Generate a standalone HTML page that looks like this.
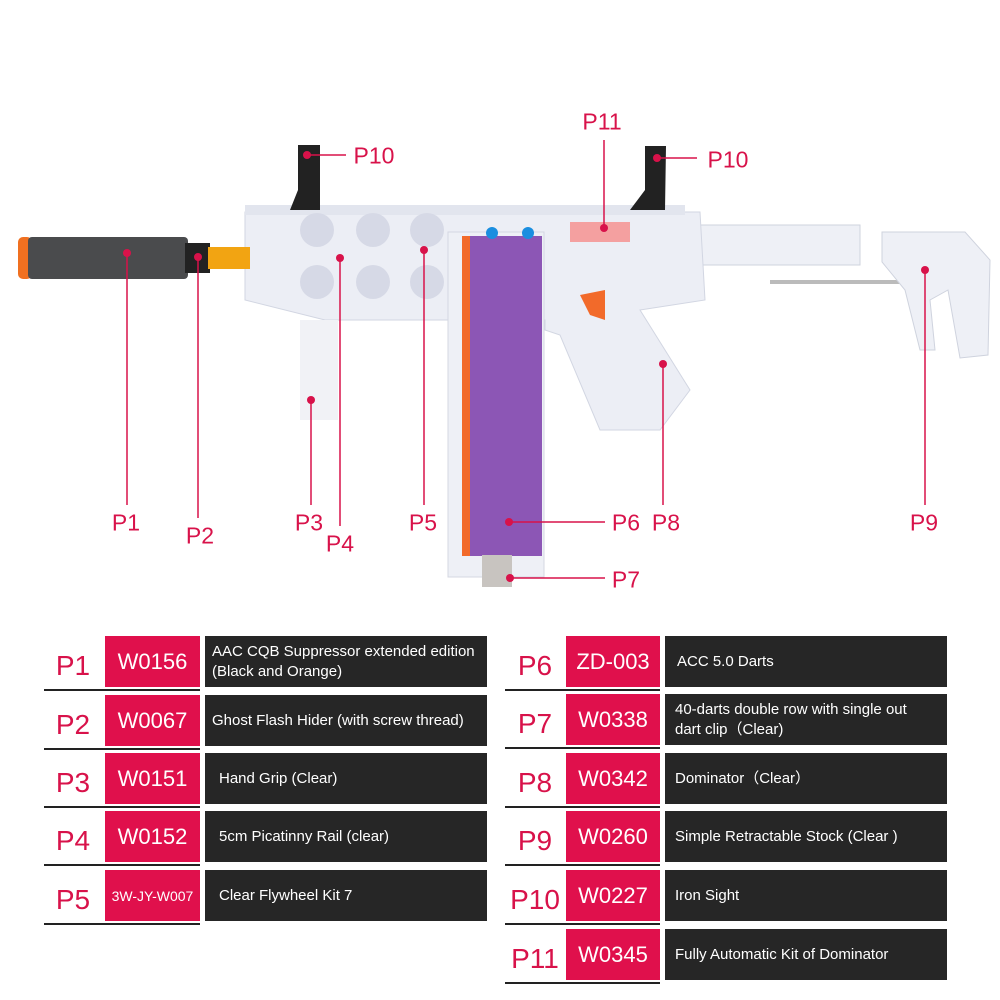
<!DOCTYPE html>
<html><head><style>
body{margin:0;width:1000px;height:1000px;background:#fff;position:relative;overflow:hidden;font-family:"Liberation Sans",sans-serif}
.lbl{position:absolute;color:#d8124a;font-size:23px;transform:translate(-50%,-50%);white-space:nowrap}
.pl{position:absolute;color:#d8124a;font-size:28px;transform:translate(-50%,-50%)}
.rb{position:absolute;background:#e0104c;color:#fff;font-size:22px;display:flex;align-items:center;justify-content:center;height:51px}
.db{position:absolute;background:#262626;color:#fff;font-size:15px;display:flex;align-items:center;height:51px;padding-left:7px;box-sizing:border-box;line-height:20px}
.ul{position:absolute;height:2px;background:#222}
</style></head><body>
<svg width="1000" height="620" style="position:absolute;left:0;top:0">
<!-- stock -->
<rect x="700" y="225" width="160" height="40" fill="#eef0f6" stroke="#cfd3de"/>
<rect x="770" y="280" width="150" height="4" fill="#bbb"/>
<path d="M882 232 L965 232 L990 260 L988 355 L960 358 L948 290 L930 300 L935 350 L920 350 L905 290 L882 262Z" fill="#eef0f6" stroke="#cfd3de"/>
<!-- receiver -->
<path d="M245 212 L700 212 L705 300 L640 310 L690 390 L660 430 L600 430 L560 335 L545 330 L545 320 L325 320 L245 300Z" fill="#eceef5" stroke="#d2d6e2"/>
<rect x="245" y="205" width="440" height="10" fill="#e2e5ee"/>
<g fill="#d6d9e6"><circle cx="317" cy="230" r="17"/><circle cx="373" cy="230" r="17"/><circle cx="427" cy="230" r="17"/><circle cx="317" cy="282" r="17"/><circle cx="373" cy="282" r="17"/><circle cx="427" cy="282" r="17"/></g>
<rect x="300" y="320" width="38" height="100" fill="#f1f2f6"/>
<!-- magazine -->
<rect x="448" y="232" width="96" height="345" fill="#eef0f6" stroke="#d4d7e2"/>
<rect x="462" y="236" width="80" height="320" fill="#8c56b5"/>
<rect x="462" y="236" width="8" height="320" fill="#f26a2a"/>
<rect x="482" y="555" width="30" height="32" fill="#c8c4c0"/>
<!-- trigger parts -->
<path d="M580 295 L605 290 L605 320 L590 315Z" fill="#f26a2a"/>
<rect x="570" y="222" width="60" height="20" fill="#f4a0a0"/>
<!-- sights -->
<path d="M290 210 L320 210 L320 145 L298 145 L298 190 Z" fill="#222"/>
<path d="M630 210 L665 210 L666 146 L645 146 L645 190Z" fill="#222"/>
<circle cx="492" cy="233" r="6" fill="#1a8ee0"/><circle cx="528" cy="233" r="6" fill="#1a8ee0"/>
<!-- suppressor -->
<rect x="18" y="237" width="14" height="42" rx="5" fill="#f07020"/>
<rect x="28" y="237" width="160" height="42" rx="4" fill="#4a4b4d"/>
<rect x="185" y="243" width="25" height="30" fill="#222"/>
<rect x="208" y="247" width="42" height="22" fill="#f2a412"/>
<!-- leader lines -->
<g stroke="#d8124a" stroke-width="1.5" fill="none">
<line x1="127" y1="254" x2="127" y2="505"/>
<line x1="198" y1="257" x2="198" y2="518"/>
<line x1="311" y1="400" x2="311" y2="505"/>
<line x1="340" y1="258" x2="340" y2="526"/>
<line x1="424" y1="250" x2="424" y2="505"/>
<line x1="509" y1="522" x2="605" y2="522"/>
<line x1="510" y1="578" x2="605" y2="578"/>
<line x1="663" y1="364" x2="663" y2="505"/>
<line x1="925" y1="270" x2="925" y2="505"/>
<line x1="307" y1="155" x2="346" y2="155"/>
<line x1="657" y1="158" x2="697" y2="158"/>
<line x1="604" y1="140" x2="604" y2="228"/>
</g>
<g fill="#d8124a">
<circle cx="127" cy="253" r="4"/><circle cx="198" cy="257" r="4"/><circle cx="311" cy="400" r="4"/><circle cx="340" cy="258" r="4"/><circle cx="424" cy="250" r="4"/><circle cx="509" cy="522" r="4"/><circle cx="510" cy="578" r="4"/><circle cx="663" cy="364" r="4"/><circle cx="925" cy="270" r="4"/><circle cx="307" cy="155" r="4"/><circle cx="657" cy="158" r="4"/><circle cx="604" cy="228" r="4"/>
</g>
</svg>
<div class="lbl" style="left:126px;top:523px">P1</div>
<div class="lbl" style="left:200px;top:536px">P2</div>
<div class="lbl" style="left:309px;top:523px">P3</div>
<div class="lbl" style="left:340px;top:544px">P4</div>
<div class="lbl" style="left:423px;top:523px">P5</div>
<div class="lbl" style="left:626px;top:523px">P6</div>
<div class="lbl" style="left:666px;top:523px">P8</div>
<div class="lbl" style="left:924px;top:523px">P9</div>
<div class="lbl" style="left:626px;top:580px">P7</div>
<div class="lbl" style="left:374px;top:156px">P10</div>
<div class="lbl" style="left:728px;top:160px">P10</div>
<div class="lbl" style="left:602px;top:122px">P11</div>

<!-- left table -->
<div class="pl" style="left:73px;top:666px">P1</div><div class="rb" style="left:105px;top:636px;width:95px">W0156</div><div class="db" style="left:205px;top:636px;width:282px">AAC CQB Suppressor extended edition<br>(Black and Orange)</div><div class="ul" style="left:44px;top:689px;width:156px"></div>
<div class="pl" style="left:73px;top:725px">P2</div><div class="rb" style="left:105px;top:695px;width:95px">W0067</div><div class="db" style="left:205px;top:695px;width:282px">Ghost Flash Hider (with screw thread)</div><div class="ul" style="left:44px;top:748px;width:156px"></div>
<div class="pl" style="left:73px;top:783px">P3</div><div class="rb" style="left:105px;top:753px;width:95px">W0151</div><div class="db" style="left:205px;top:753px;width:282px;padding-left:14px">Hand Grip (Clear)</div><div class="ul" style="left:44px;top:806px;width:156px"></div>
<div class="pl" style="left:73px;top:841px">P4</div><div class="rb" style="left:105px;top:811px;width:95px">W0152</div><div class="db" style="left:205px;top:811px;width:282px;padding-left:14px">5cm Picatinny Rail (clear)</div><div class="ul" style="left:44px;top:864px;width:156px"></div>
<div class="pl" style="left:73px;top:900px">P5</div><div class="rb" style="left:105px;top:870px;width:95px;font-size:14px">3W-JY-W007</div><div class="db" style="left:205px;top:870px;width:282px;padding-left:14px">Clear Flywheel Kit 7</div><div class="ul" style="left:44px;top:923px;width:156px"></div>
<!-- right table -->
<div class="pl" style="left:535px;top:666px">P6</div><div class="rb" style="left:566px;top:636px;width:94px">ZD-003</div><div class="db" style="left:665px;top:636px;width:282px;padding-left:12px">ACC 5.0 Darts</div><div class="ul" style="left:505px;top:689px;width:155px"></div>
<div class="pl" style="left:535px;top:724px">P7</div><div class="rb" style="left:566px;top:694px;width:94px">W0338</div><div class="db" style="left:665px;top:694px;width:282px;padding-left:10px">40-darts double row with single out<br>dart clip（Clear)</div><div class="ul" style="left:505px;top:747px;width:155px"></div>
<div class="pl" style="left:535px;top:783px">P8</div><div class="rb" style="left:566px;top:753px;width:94px">W0342</div><div class="db" style="left:665px;top:753px;width:282px;padding-left:10px">Dominator（Clear）</div><div class="ul" style="left:505px;top:806px;width:155px"></div>
<div class="pl" style="left:535px;top:841px">P9</div><div class="rb" style="left:566px;top:811px;width:94px">W0260</div><div class="db" style="left:665px;top:811px;width:282px;padding-left:10px">Simple Retractable Stock (Clear )</div><div class="ul" style="left:505px;top:864px;width:155px"></div>
<div class="pl" style="left:535px;top:900px">P10</div><div class="rb" style="left:566px;top:870px;width:94px">W0227</div><div class="db" style="left:665px;top:870px;width:282px;padding-left:10px">Iron Sight</div><div class="ul" style="left:505px;top:923px;width:155px"></div>
<div class="pl" style="left:535px;top:959px">P11</div><div class="rb" style="left:566px;top:929px;width:94px">W0345</div><div class="db" style="left:665px;top:929px;width:282px;padding-left:10px">Fully Automatic Kit of Dominator</div><div class="ul" style="left:505px;top:982px;width:155px"></div>
</body></html>
